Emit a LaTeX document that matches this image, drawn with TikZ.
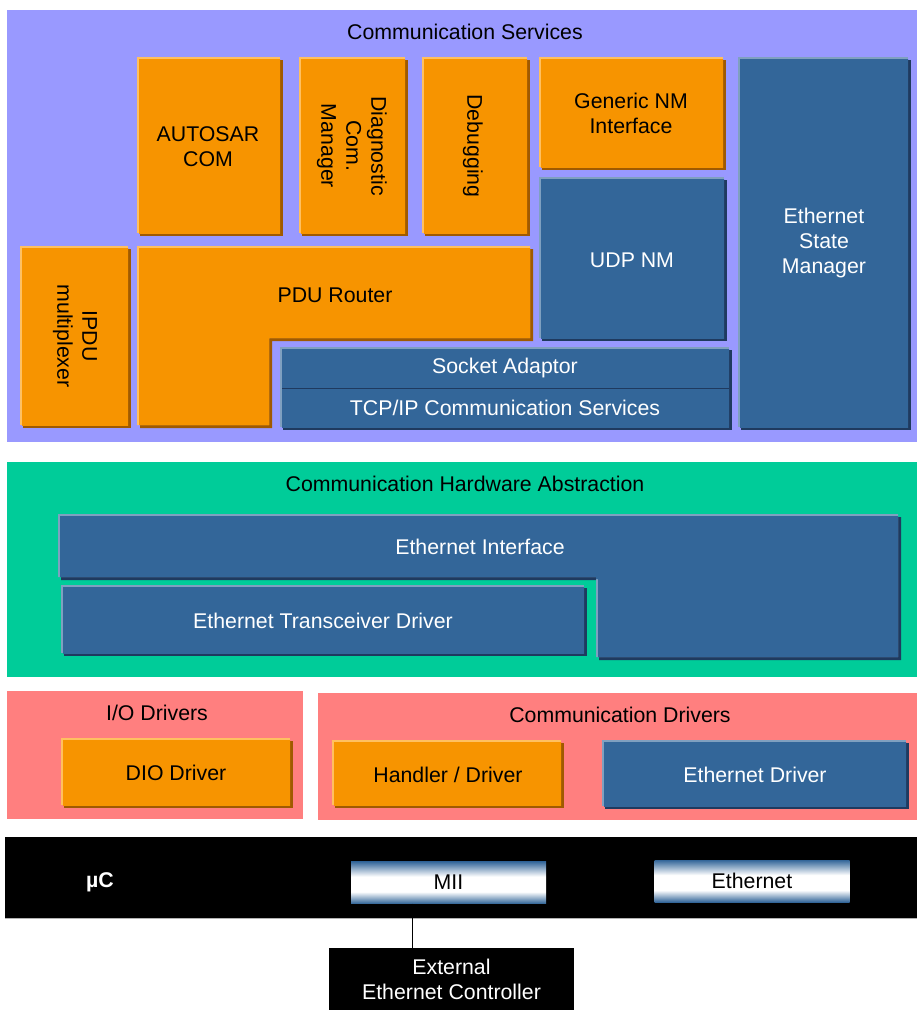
\documentclass[tikz,border=0pt]{standalone}
\usepackage{fontspec}
\setmainfont{Liberation Sans}
\definecolor{lav}{HTML}{9999FF}
\definecolor{omain}{HTML}{F79400}
\definecolor{olight}{HTML}{FFC060}
\definecolor{oshadow}{HTML}{A05A00}
\definecolor{bmain}{HTML}{336699}
\definecolor{blight}{HTML}{7FA0C0}
\definecolor{bshadow}{HTML}{1F3A5F}
\definecolor{grn}{HTML}{00CC99}
\definecolor{pnk}{HTML}{FF7F7F}
\newcommand\fs{\fontsize{21.3}{25}\selectfont}
\newcommand\lbox[2]{%
 \fill[#1shadow, shift={(3,3)}] #2;
 \fill[#1light] #2;
 \begin{scope}\clip #2; \fill[#1main, shift={(2,2)}] #2; \end{scope}}
\pgfdeclareverticalshading{miish}{100bp}{color(0bp)=(bmain); color(25bp)=(bmain); color(39bp)=(white); color(57bp)=(white); color(75bp)=(bmain); color(100bp)=(bmain)}
\begin{document}
\begin{tikzpicture}[x=1pt,y=-1pt,
  every node/.style={font=\fs, inner sep=0pt},
  wt/.style={text=white},
  rv/.style={rotate=-90, align=center},
  port/.style={shading=miish, minimum width=195pt, minimum height=42pt}]
\useasboundingbox (0,0) rectangle (918,1010);
% Communication Services
\fill[lav] (7,10) rectangle (917,442);
\node (cs) at (465,32) {Communication Services};
\lbox{o}{(137,57) rectangle (280,233)}
\node[align=center] (autosar) at (208,147) {AUTOSAR\\COM};
\lbox{o}{(299,57) rectangle (405,233)}
\node[rv] (dcm) at (352,146) {Diagnostic\\Com.\\Manager};
\lbox{o}{(422,57) rectangle (527,233)}
\node[rv] (dbg) at (473,146) {Debugging};
\lbox{o}{(539,57) rectangle (723,167)}
\node[align=center] (gnm) at (631,113) {Generic NM\\Interface};
\lbox{b}{(539,177) rectangle (724,338)}
\node[wt] (udp) at (632,260) {UDP NM};
\lbox{b}{(738,57) rectangle (908,427)}
\node[wt, align=center] (esm) at (824,243) {Ethernet\\State\\Manager};
\lbox{o}{(20,246) rectangle (128,425)}
\node[rv] (ipdu) at (75,336) {IPDU\\multiplexer};
\lbox{o}{(137,246) -- (530,246) -- (530,338) -- (269,338) -- (269,425) -- (137,425) -- cycle}
\node (pdur) at (335,295) {PDU Router};
\lbox{b}{(280,347) rectangle (729,427)}
\draw[bshadow, line width=1.5pt] (282,388.5) -- (729,388.5);
\node[wt] (soad) at (505,368) {Socket Adaptor};
\node[wt] (tcpip) at (505,408) {TCP/IP Communication Services};
% Communication Hardware Abstraction
\fill[grn] (7,462) rectangle (917,677);
\node (chwa) at (465,484) {Communication Hardware Abstraction};
\lbox{b}{(58,514) -- (898,514) -- (898,657) -- (596,657) -- (596,577) -- (58,577) -- cycle}
\node[wt] (ethif) at (480,547) {Ethernet Interface};
\lbox{b}{(61,585) rectangle (584,653)}
\node[wt] (ethtrcv) at (323,621) {Ethernet Transceiver Driver};
% Drivers
\fill[pnk] (7,691) rectangle (303,819);
\node (iod) at (157,713) {I/O Drivers};
\lbox{o}{(61,738) rectangle (290,805)}
\node (dio) at (176,773) {DIO Driver};
\fill[pnk] (318,693) rectangle (917,820);
\node (cd) at (620,715) {Communication Drivers};
\lbox{o}{(332,740) rectangle (561,805)}
\node (hnd) at (448,775) {Handler / Driver};
\lbox{b}{(602,740) rectangle (906,806)}
\node[wt] (ethdrv) at (755,775) {Ethernet Driver};
% microcontroller
\fill[black] (5,837) rectangle (917,918);
\draw[gray!60, line width=0.8pt] (5,918) -- (917,918);
\node[wt, font=\fs\bfseries] (uc) at (100,882) {µC};
\node[port] (mii) at (448.5,882.5) {MII};
\node[port] (eth) at (752,881) {Ethernet};
\node[fill=black, wt, align=center, minimum width=245pt, minimum height=62pt] (ext) at (451.5,979) {External\\Ethernet Controller};
\coordinate (tap) at ([xshift=62pt]mii.south west);
\draw[line width=1.3pt] (tap) -- (tap |- ext.north);
\end{tikzpicture}
\end{document}
